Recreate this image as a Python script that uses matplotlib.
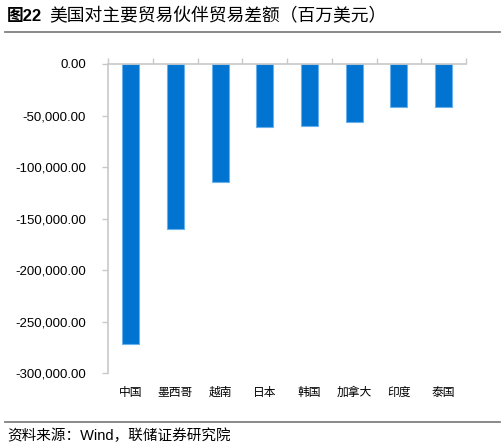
import matplotlib
matplotlib.use("Agg")
import matplotlib.pyplot as plt
from matplotlib.ticker import FuncFormatter

plt.rcParams['font.family'] = ['Noto Sans CJK SC', 'DejaVu Sans']

categories = ["中国", "墨西哥", "越南", "日本", "韩国", "加拿大", "印度", "泰国"]
values = [-271900, -160300, -114700, -61400, -59800, -56000, -41400, -42000]
yticks = [0, -50000, -100000, -150000, -200000, -250000, -300000]

title_num = "图22"
title = "美国对主要贸易伙伴贸易差额（百万美元）"
source = "资料来源：Wind，联储证券研究院"

fig = plt.figure(figsize=(5.04, 4.48), dpi=100)
ax_h = 373.3 - 64
ax = fig.add_axes([108.3/504, 1 - 373.3/448, (465.9-108.3)/504, ax_h/448])

x = list(range(len(categories)))
ax.bar(x, values, width=0.38, color="#0074D0", edgecolor="#6AB0EC", linewidth=0.8, zorder=2)

ax.set_xlim(-0.5, len(categories) - 0.5)
ax.set_ylim(-300000, 0)
ax.set_yticks(yticks)
ax.yaxis.set_major_formatter(FuncFormatter(lambda v, p: f"{v:,.2f}"))
for lab in ax.get_yticklabels():
    lab.set_fontfamily(['Liberation Sans'])
ax.tick_params(axis='y', labelsize=9.5, length=4, width=1, color="#C8C8C8", pad=12, labelcolor="#000000")

ax.set_xticks([i - 0.5 for i in range(len(categories) + 1)])
ax.set_xticklabels([])
ax.xaxis.set_ticks_position('top')
ax.tick_params(axis='x', length=4, width=1, color="#C8C8C8", direction='out')

for s in ['right', 'bottom']:
    ax.spines[s].set_visible(False)
for s in ['left', 'top']:
    ax.spines[s].set_color("#C8C8C8")
    ax.spines[s].set_linewidth(1.2)

for i, c in enumerate(categories):
    ax.text(i, -19/ax_h, c, transform=ax.get_xaxis_transform(), ha='center', va='center',
            fontsize=8.5, color="#000000")

fig.text(7/504, 1 - 16/448, title_num, fontsize=12, fontweight='bold', ha='left', va='center',
         family=['Liberation Sans', 'Noto Sans CJK SC'])
fig.text(49/504, 1 - 16/448, title, fontsize=12.8, fontweight='medium', ha='left', va='center')
fig.add_artist(plt.Line2D([5/504, 500/504], [1 - 32/448, 1 - 32/448], color="#808080", linewidth=1.3))
fig.add_artist(plt.Line2D([5/504, 500/504], [1 - 422/448, 1 - 422/448], color="#808080", linewidth=1.3))
fig.text(7/504, 1 - 436/448, source, fontsize=10.5, ha='left', va='center',
         family=['Liberation Sans', 'Noto Sans CJK SC'])

fig.savefig("out.png", dpi=100)
